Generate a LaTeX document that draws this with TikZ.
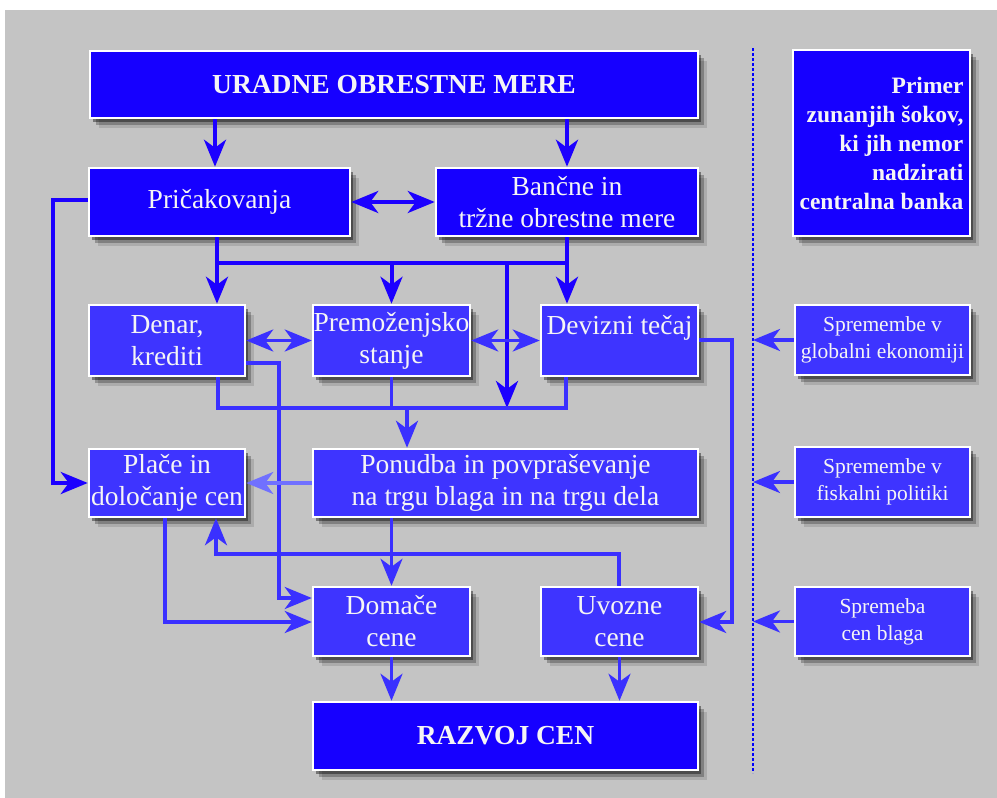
\documentclass[tikz,border=0pt]{standalone}
\usepackage{fontspec}
\setmainfont{Liberation Serif}
\usetikzlibrary{arrows.meta,shadows}
\definecolor{bg}{RGB}{196,196,196}
\definecolor{dkblue}{RGB}{22,0,255}
\definecolor{mdblue}{RGB}{62,52,255}
\definecolor{lnD}{RGB}{28,0,255}
\definecolor{lnM}{RGB}{58,48,255}
\definecolor{lnL}{RGB}{112,112,255}
\definecolor{txt}{RGB}{245,245,245}
\begin{document}
\begin{tikzpicture}[x=1pt,y=-1pt,
  box/.style={draw=white,line width=2.5pt,text=txt,align=center,inner sep=2pt,
    drop shadow={shadow xshift=3pt,shadow yshift=-4pt,opacity=.4,fill=black},
    drop shadow={shadow xshift=6pt,shadow yshift=-7pt,opacity=.25,fill=black},
    drop shadow={shadow xshift=9pt,shadow yshift=-10pt,opacity=.12,fill=black}},
  dbox/.style={box,fill=dkblue},
  lbox/.style={box,fill=mdblue},
  mainfont/.style={font=\fontsize{27.5}{32}\selectfont},
  boldfont/.style={font=\bfseries\fontsize{27.5}{32}\selectfont},
  smallfont/.style={font=\fontsize{21.5}{27}\selectfont},
  tipS/.tip={Stealth[length=27pt,width=22pt,inset=8pt]},
  conD/.style={line width=4pt,draw=lnD},
  conM/.style={line width=3.5pt,draw=lnM},
  arrD/.style={conD,-tipS},
  arrM/.style={conM,-tipS},
  arrL/.style={line width=3.5pt,draw=lnL,-tipS},
  darrD/.style={conD,tipS-tipS},
  darrM/.style={conM,tipS-tipS},
  dashline/.style={draw=blue,line width=2pt,dash pattern=on 3pt off 2pt}
]
\useasboundingbox (0,0) rectangle (997,798);
\fill[white] (0,0) rectangle (997,798);
\fill[bg] (5,10) rectangle (997,798);

% nodes
\node[dbox,boldfont,minimum width=608pt,minimum height=67pt] (ur) at (394,84.5) {URADNE OBRESTNE MERE};
\node[dbox,mainfont,minimum width=261pt,minimum height=68pt] (pr) at (219.5,202) {Pričakovanja};
\node[dbox,mainfont,minimum width=262pt,minimum height=68pt] (ba) at (567,202) {Bančne in\\tržne obrestne mere};
\node[lbox,mainfont,minimum width=156pt,minimum height=71pt] (de) at (167,340.5) {Denar,\\krediti};
\node[lbox,mainfont,minimum width=157pt,minimum height=71pt,inner sep=0pt] (pm) at (391.5,340.5) {Premoženjsko\\stanje};
\node[lbox,mainfont,minimum width=157pt,minimum height=71pt] (dv) at (619.5,340.5) {Devizni tečaj\\\mbox{}};
\node[lbox,mainfont,minimum width=156pt,minimum height=68pt,inner sep=0pt] (pl) at (167,483) {Plače in\\določanje cen};
\node[lbox,mainfont,minimum width=385pt,minimum height=68pt] (po) at (505.5,483) {Ponudba in povpraševanje\\na trgu blaga in na trgu dela};
\node[lbox,mainfont,minimum width=157pt,minimum height=69pt] (dc) at (391.5,621.5) {Domače\\cene};
\node[lbox,mainfont,minimum width=157pt,minimum height=69pt] (uc) at (619.5,621.5) {Uvozne\\cene};
\node[dbox,boldfont,minimum width=385pt,minimum height=68pt] (rc) at (505.5,736) {RAZVOJ CEN};
\node[dbox,font=\bfseries\fontsize{23.5}{29}\selectfont,align=right,minimum width=177pt,minimum height=186pt,inner sep=0pt] (pb) at (881.5,143) {Primer\\zunanjih šokov,\\ki jih nemor\\nadzirati\\centralna banka};
\node[lbox,smallfont,minimum width=175pt,minimum height=70pt] (s1) at (882.5,340) {Spremembe v\\globalni ekonomiji};
\node[lbox,smallfont,minimum width=175pt,minimum height=70pt] (s2) at (882.5,482) {Spremembe v\\fiskalni politiki};
\node[lbox,smallfont,minimum width=175pt,minimum height=69pt] (s3) at (882.5,621.5) {Spremeba\\cen blaga};

% helper coordinates
\coordinate (cA) at (215,0);
\coordinate (cB) at (567,0);
\coordinate (j1) at (217,263);
\coordinate (j2) at (567,263);
\coordinate (jm) at (507,263);
\coordinate (bm) at (507,408);
\coordinate (b1) at (218,408);
\coordinate (b2) at (566,408);
\coordinate (bp) at (407,408);
\coordinate (l1) at (279,363);
\coordinate (l2) at (279,598);
\coordinate (m1) at (53,200);
\coordinate (m2) at (53,483);
\coordinate (o1) at (165,622);
\coordinate (q1) at (619,554);
\coordinate (q2) at (216,554);
\coordinate (r1) at (732,340);
\coordinate (r2) at (732,622);
\coordinate (dt) at (753,48);
\coordinate (db) at (753,773);

% connectors
\draw[arrD] (ur.south -| cA) -- (pr.north -| cA);
\draw[arrD] (ur.south -| cB) -- (ba.north -| cB);
\draw[darrD] (pr.east) -- (ba.west);
\draw[arrD] (pr.south -| j1) -- (de.north -| j1);
\draw[conD] (j1) -- (j2);
\draw[arrD] (pm.north |- j1) -- (pm.north);
\draw[arrD] (ba.south -| j2) -- (dv.north -| j2);
\draw[arrD] (jm) -- (bm);
\draw[conM] (de.south -| b1) -- (b1) -- (b2) -- (dv.south -| b2);
\draw[conM] (pm.south) -- (pm.south |- b1);
\draw[arrM] (bp) -- (po.north -| bp);
\draw[darrM] (de.east) -- (pm.west);
\draw[darrM] (pm.east) -- (dv.west);
\draw[arrM] (de.east |- l1) -- (l1) -- (l2) -- (dc.west |- l2);
\draw[arrD] (pr.west |- m1) -- (m1) -- (m2) -- (pl.west |- m2);
\draw[arrL] (po.west) -- (pl.east);
\draw[arrM] (pl.south -| o1) -- (o1) -- (dc.west |- o1);
\draw[arrM] (po.south -| dc.north) -- (dc.north);
\draw[arrM] (uc.north -| q1) -- (q1) -- (q2) -- (pl.south -| q2);
\draw[arrM] (dv.east |- r1) -- (r1) -- (r2) -- (uc.east |- r2);
\draw[arrM] (dc.south) -- (rc.north -| dc.south);
\draw[arrM] (uc.south) -- (rc.north -| uc.south);
\draw[dashline] (dt) -- (db);
\draw[arrM] (s1.west) -- (s1.west -| dt);
\draw[arrM] (s2.west) -- (s2.west -| dt);
\draw[arrM] (s3.west) -- (s3.west -| dt);
\end{tikzpicture}
\end{document}
